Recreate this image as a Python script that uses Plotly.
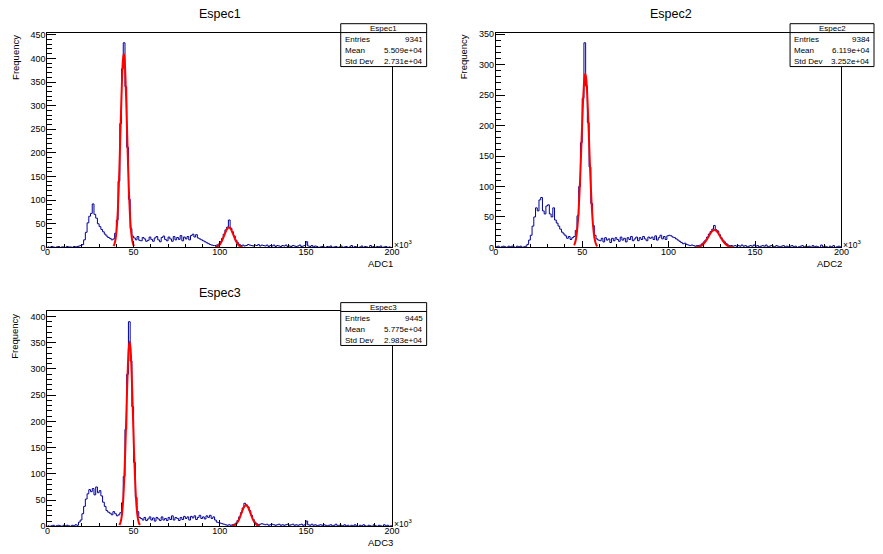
import numpy as np
import plotly.graph_objects as go

# ---------------- data (x in units of 10^3 ADC counts) ----------------
BIN_W = 1.0
X_MAX = 200

names = ["Espec1", "Espec2", "Espec3"]
x_titles = ["ADC1", "ADC2", "ADC3"]
entries = ["9341", "9384", "9445"]
means = ["5.509e+04", "6.119e+04", "5.775e+04"]
stddevs = ["2.731e+04", "3.252e+04", "2.983e+04"]

h1 = [1, 0, 2, 1, 0, 1, 2, 0, 1, 1,
      0, 2, 1, 1, 0, 2, 1, 2, 3, 4,
      6, 16, 32, 52, 66, 72, 92, 70, 62, 50,
      44, 38, 33, 28, 24, 21, 19, 16, 18, 30,
      58, 140, 262, 378, 433, 340, 212, 102, 40, 24,
      20, 16, 23, 15, 14, 21, 18, 13, 15, 22,
      17, 13, 20, 23, 16, 12, 21, 24, 17, 14,
      22, 18, 13, 23, 16, 21, 17, 25, 14, 22,
      18, 23, 16, 25, 28, 22, 27, 20, 18, 16,
      14, 12, 10, 8, 6, 5, 4, 4, 5, 7,
      12, 19, 28, 37, 43, 58, 41, 33, 24, 15,
      10, 6, 4, 5, 3, 4, 6, 5, 4, 3,
      5, 4, 6, 3, 5, 4, 3, 5, 2, 4,
      3, 5, 2, 4, 3, 2, 4, 3, 5, 2,
      3, 2, 4, 3, 2, 3, 5, 2, 3, 4,
      12, 3, 2, 4, 1, 3, 2, 0, 1, 2,
      1, 0, 2, 1, 3, 0, 1, 2, 0, 1,
      3, 0, 1, 2, 0, 1, 4, 0, 2, 1,
      0, 1, 3, 0, 2, 1, 0, 4, 1, 2,
      0, 2, 1, 3, 0, 1, 2, 0, 1, 0]

h2 = [1, 2, 0, 1, 2, 1, 0, 2, 1, 2,
      1, 0, 2, 1, 2, 0, 1, 2, 5, 12,
      20, 35, 50, 65, 60, 78, 82, 60, 55, 68,
      70, 55, 50, 65, 45, 40, 35, 30, 25, 22,
      19, 15, 18, 13, 16, 18, 28, 52, 100, 172,
      245, 336, 265, 205, 132, 72, 36, 20, 14, 12,
      11, 15, 9, 16, 12, 14, 8, 15, 11, 16,
      13, 10, 17, 12, 15, 9, 16, 13, 18, 11,
      14, 17, 11, 16, 13, 18, 14, 11, 17, 15,
      17, 13, 19, 12, 16, 20, 14, 18, 13, 19,
      20, 19, 17, 16, 14, 12, 10, 8, 6, 7,
      5, 4, 3, 4, 3, 2, 3, 3, 4, 6,
      9, 12, 17, 22, 26, 30, 36, 29, 27, 21,
      16, 12, 9, 6, 4, 3, 3, 2, 3, 2,
      3, 2, 4, 2, 3, 1, 2, 3, 2, 4,
      2, 3, 1, 2, 3, 2, 4, 1, 2, 3,
      2, 1, 3, 2, 1, 2, 3, 1, 2, 1,
      2, 3, 1, 2, 0, 1, 2, 3, 1, 2,
      1, 2, 0, 3, 1, 2, 1, 0, 4, 1,
      2, 1, 0, 2, 1, 3, 0, 1, 2, 1]

h3 = [1, 0, 1, 2, 0, 1, 2, 1, 0, 2,
      1, 2, 1, 0, 2, 1, 3, 2, 8, 12,
      24, 38, 52, 62, 70, 66, 72, 60, 75, 64,
      68, 58, 46, 38, 30, 27, 25, 22, 28, 24,
      20, 22, 26, 45, 95, 185, 290, 390, 315, 228,
      122, 55, 28, 17, 15, 12, 17, 11, 14, 18,
      12, 16, 10, 17, 14, 11, 18, 12, 15, 11,
      17, 13, 20, 12, 17, 15, 11, 17, 13, 19,
      15, 18, 12, 19, 16, 20, 13, 17, 21, 15,
      18, 14, 20, 17, 21, 15, 18, 12, 8, 7,
      6, 5, 4, 3, 2, 3, 2, 3, 4, 6,
      11, 18, 26, 35, 44, 41, 37, 30, 21, 13,
      8, 5, 3, 4, 5, 4, 3, 4, 2, 3,
      4, 3, 2, 3, 4, 2, 3, 2, 3, 4,
      2, 3, 4, 2, 3, 2, 3, 4, 2, 3,
      10, 3, 2, 4, 2, 3, 1, 2, 3, 2,
      3, 2, 1, 2, 3, 1, 2, 4, 1, 2,
      2, 1, 3, 1, 2, 0, 2, 1, 3, 1,
      0, 2, 1, 3, 1, 0, 2, 1, 0, 3,
      1, 0, 2, 1, 0, 3, 1, 2, 0, 1]

# fitted curves: (first x, step, y samples)
fit1a = (38.3, 0.5, [3, 6, 13, 25, 45, 75, 118, 172, 236, 300, 357, 396, 410,
                     396, 357, 300, 236, 172, 118, 75, 45, 25, 13, 6, 3])
fit1b = (97.3, 1.0, [0.5, 1.5, 3.6, 7.6, 14.0, 22.6, 31.9, 39.2, 42,
                     39.2, 31.9, 22.6, 14.0, 7.6, 3.6, 1.5, 0.5])
fit2a = (45.3, 0.5, [3.6, 6.9, 12.5, 21.5, 35.2, 54.6, 80.4, 112.5, 149.4, 188.5,
                     225.9, 257, 277.7, 285, 277.7, 257, 225.9, 188.5, 149.4,
                     112.5, 80.4, 54.6, 35.2, 21.5, 12.5, 6.9, 3.6, 1.8])
fit2b = (115.5, 1.0, [0.2, 0.5, 1.0, 2.1, 3.9, 6.6, 10.3, 14.8, 19.7, 24.2, 27.4,
                      28.5, 27.4, 24.2, 19.7, 14.8, 10.3, 6.6, 3.9, 2.1, 1.0,
                      0.5, 0.2])
fit3a = (41.7, 0.5, [2.4, 5.4, 11, 21.3, 38.4, 64.4, 101, 148, 202, 258, 307, 340,
                     352, 340, 307, 258, 202, 148, 101, 64.4, 38.4, 21.3, 11,
                     5.4, 2.4])
fit3b = (107.2, 1.0, [0.5, 1.4, 3.4, 7.2, 13.4, 21.6, 30.4, 37.4, 40,
                      37.4, 30.4, 21.6, 13.4, 7.2, 3.4, 1.4, 0.5])

hists = [h1, h2, h3]
fits = [[fit1a, fit1b], [fit2a, fit2b], [fit3a, fit3b]]

# ---------------- layout geometry (pixels) ----------------
W, H = 883, 554
FONT = "Liberation Sans, Arial, Helvetica, sans-serif"
HIST_COLOR = "#000099"
FIT_COLOR = "#ff0000"

# frame: (left, right, top, bottom) in px
frames = [(45, 394, 30, 248), (499, 849, 30, 248), (45, 394, 313, 531)]
# stats box: (left, right, top)
boxes = [(342, 429, 21), (797, 882, 21), (342, 429, 304)]
title_centers = [(220, 11), (676, 11), (220, 294)]


def pxx(x):
    return x / W


def pxy(y):
    return 1 - y / H


fig = go.Figure()
annotations = []
shapes = []

for i in range(3):
    ax = "" if i == 0 else str(i + 1)
    h = hists[i]
    edges = np.arange(len(h) + 1) * BIN_W
    fig.add_trace(go.Scatter(
        x=edges, y=list(h) + [h[-1]], mode="lines",
        line=dict(color=HIST_COLOR, width=1, shape="hv"),
        xaxis="x" + ax, yaxis="y" + ax, showlegend=False, hoverinfo="skip"))
    for (x0, step, ys) in fits[i]:
        xs = x0 + step * np.arange(len(ys))
        fig.add_trace(go.Scatter(
            x=xs, y=ys, mode="lines",
            line=dict(color=FIT_COLOR, width=2, shape="spline", smoothing=1.0),
            xaxis="x" + ax, yaxis="y" + ax, showlegend=False, hoverinfo="skip"))

    l, r, t, b = frames[i]
    ymax = 1.05 * max(h)
    fig.update_layout(**{
        "xaxis" + ax: dict(
            domain=[pxx(l), pxx(r)], anchor="y" + ax, range=[0, X_MAX],
            tick0=0, dtick=50, ticks="inside", ticklen=6, tickcolor="black",
            tickwidth=1, ticklabelstandoff=-4,
            minor=dict(dtick=10, tick0=0, ticks="inside", ticklen=3,
                       tickcolor="black", showgrid=False),
            showline=True, linecolor="black", linewidth=1, mirror=True,
            showgrid=False, zeroline=False,
            tickfont=dict(family=FONT, size=9, color="black")),
        "yaxis" + ax: dict(
            domain=[pxy(b), pxy(t)], anchor="x" + ax, range=[0, ymax],
            tick0=0, dtick=50, ticks="inside", ticklen=9, tickcolor="black",
            tickwidth=1, ticklabelstandoff=-1,
            minor=dict(dtick=10, tick0=0, ticks="inside", ticklen=5,
                       tickcolor="black", showgrid=False),
            showline=True, linecolor="black", linewidth=1, mirror=True,
            showgrid=False, zeroline=False,
            tickfont=dict(family=FONT, size=9, color="black")),
    })

    # title
    cx, cy = title_centers[i]
    annotations.append(dict(x=pxx(cx), y=pxy(cy), xref="paper", yref="paper",
                            text=names[i], showarrow=False, xanchor="center",
                            yanchor="middle",
                            font=dict(family=FONT, size=12.5, color="black")))
    # y title
    annotations.append(dict(x=pxx(l - 33), y=pxy(t), xref="paper", yref="paper",
                            text="Frequency", showarrow=False, textangle=-90,
                            xanchor="center", yanchor="top",
                            font=dict(family=FONT, size=9.5, color="black")))
    # x title
    annotations.append(dict(x=pxx(r + 3), y=pxy(b + 16), xref="paper",
                            yref="paper", text=x_titles[i], showarrow=False,
                            xanchor="right", yanchor="middle",
                            font=dict(family=FONT, size=9.5, color="black")))
    # x10^3 multiplier
    annotations.append(dict(x=pxx(r), y=pxy(b - 3), xref="paper", yref="paper",
                            text="\u00d710<sup>3</sup>", showarrow=False,
                            xanchor="left", yanchor="middle",
                            font=dict(family=FONT, size=8.5, color="black")))

    # stats box
    bl, br, bt = boxes[i]
    bb = bt + 43.5
    shapes.append(dict(type="rect", xref="paper", yref="paper",
                       x0=pxx(bl), x1=pxx(br), y0=pxy(bb), y1=pxy(bt),
                       line=dict(color="black", width=1), fillcolor="white",
                       layer="above"))
    shapes.append(dict(type="line", xref="paper", yref="paper",
                       x0=pxx(bl), x1=pxx(br), y0=pxy(bt + 9), y1=pxy(bt + 9),
                       line=dict(color="black", width=1), layer="above"))
    annotations.append(dict(x=pxx((bl + br) / 2), y=pxy(bt + 4.6), xref="paper",
                            yref="paper", text=names[i], showarrow=False,
                            xanchor="center", yanchor="middle",
                            font=dict(family=FONT, size=8, color="black")))
    rows = [("Entries", entries[i]), ("Mean", means[i]), ("Std Dev", stddevs[i])]
    for k, (lab, val) in enumerate(rows):
        yy = bt + 15.8 + k * 11.1
        annotations.append(dict(x=pxx(bl + 2), y=pxy(yy), xref="paper",
                                yref="paper", text=lab, showarrow=False,
                                xanchor="left", yanchor="middle",
                                font=dict(family=FONT, size=8, color="black")))
        annotations.append(dict(x=pxx(br - 2), y=pxy(yy), xref="paper",
                                yref="paper", text=val, showarrow=False,
                                xanchor="right", yanchor="middle",
                                font=dict(family=FONT, size=8, color="black")))

fig.update_layout(width=W, height=H, margin=dict(l=0, r=0, t=0, b=0),
                  paper_bgcolor="white", plot_bgcolor="white",
                  annotations=annotations, shapes=shapes, showlegend=False)

fig.write_html("out.html")
